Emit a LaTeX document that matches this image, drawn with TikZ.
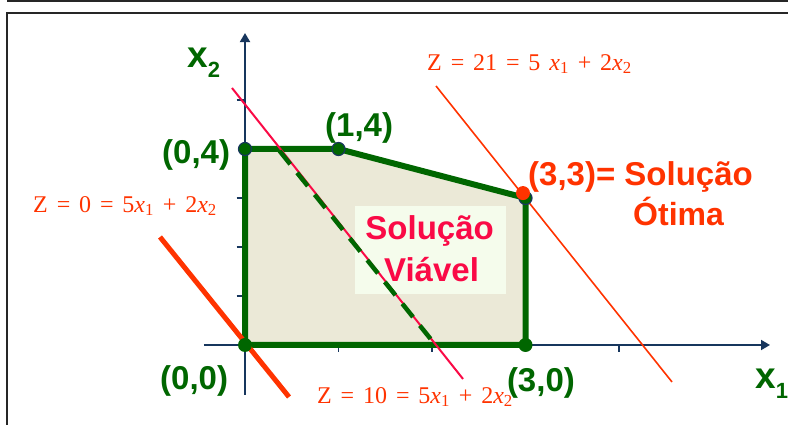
\documentclass[tikz,border=0pt]{standalone}
\usepackage{fontspec}
\newfontfamily\arialfont{Liberation Sans}
\newfontfamily\timesfont{Liberation Serif}
\usetikzlibrary{arrows.meta}

\definecolor{verde}{RGB}{0,102,0}
\definecolor{bege}{RGB}{235,233,215}
\definecolor{marinho}{RGB}{23,54,93}
\definecolor{laranja}{RGB}{255,51,0}
\definecolor{carmim}{RGB}{250,10,70}
\definecolor{verdeclaro}{RGB}{245,252,236}

\newcommand{\xsub}[1]{\textit{x}\textsubscript{#1}}
\newcommand{\esp}{\hspace{0.37em}}

\tikzset{
    rotulo/.style={font=\arialfont\bfseries\fontsize{33}{35}\selectfont, text=verde, inner sep=0pt},
    formula/.style={font=\timesfont\fontsize{24}{26}\selectfont, text=laranja, inner sep=0pt},
    eixo/.style={draw=marinho, line width=1.8pt, -{Triangle[length=9pt,width=10pt]}},
    vertice/.style={circle, fill=verde, draw=marinho, line width=1.2pt, minimum size=13pt, inner sep=0pt},
    pontoverde/.style={circle, fill=verde, minimum size=14pt, inner sep=0pt},
}

\begin{document}
\begin{tikzpicture}[x=1pt, y=1pt]
    \useasboundingbox (0,0) rectangle (788,425);

    % Frame
    \draw[line width=2pt, black!85] (8,426) -- (8,423.5) -- (790,423.5);
    \draw[line width=2pt, black!85] (790,412) -- (7,412) -- (7,-2);

    \begin{scope}[shift={(245pt,80pt)}, x=93.5pt, y=49pt]
        \coordinate (p00) at (0,0);
        \coordinate (p04) at (0,4);
        \coordinate (p14) at (1,4);
        \coordinate (p33) at (3,3);
        \coordinate (p30) at (3,0);

        % Axes
        \coordinate (xini) at (-0.44,0);
        \coordinate (xfim) at (5.615,0);
        \coordinate (yini) at (0,-1.02);
        \coordinate (yfim) at (0,6.367);
        \draw[eixo] (xini) -- (xfim);
        \draw[eixo] (yini) -- (yfim);
        \foreach \k in {1,2,3,5} \draw[marinho, line width=1.5pt] (-0.09,\k) -- (0,\k);
        \foreach \k in {1,2,4} \draw[marinho, line width=1.5pt] (\k,0) -- (\k,-0.15);

        % Feasible region
        \filldraw[fill=bege, draw=verde, line width=6pt] (p00) -- (p04) -- (p14) -- (p33) -- (p30) -- cycle;
        \node (caixa) [fill=verdeclaro, minimum width=151pt, minimum height=88pt] at (1.984,1.939) {};
        \node (solucao) [rotulo, text=carmim, anchor=base] at (1.975,2.143) {Solução};
        \node (viavel) [rotulo, text=carmim, anchor=base] at (1.995,1.306) {Viável};

        % Objective lines
        \coordinate (z10a) at (-0.139,5.245);
        \coordinate (z10b) at (2.332,-0.694);
        \coordinate (tracoa) at (0.37,3.96);
        \coordinate (tracob) at (2.037,0);
        \coordinate (z21a) at (2.043,5.286);
        \coordinate (z21b) at (4.567,-0.755);
        \coordinate (z0a) at (-0.909,2.204);
        \coordinate (z0b) at (0.471,-1.061);
        \draw[carmim, line width=2pt] (z10a) -- (z10b);
        \draw[verde, line width=4.5pt, dash pattern=on 17pt off 11pt] (tracoa) -- (tracob);
        \draw[laranja, line width=1.6pt] (z21a) -- (z21b);
        \draw[laranja, line width=5pt] (z0a) -- (z0b);

        % Vertices
        \node (d04) [vertice] at (p04) {};
        \node (d14) [vertice] at (p14) {};
        \node (d00) [pontoverde] at (p00) {};
        \node (d30) [pontoverde] at (p30) {};
        \node (d33) [vertice] at (p33) {};
        \node (otimo) [pontoverde, fill=laranja] at (2.973,3.10) {};

        % Labels
        \node (rotx2) [rotulo, font=\arialfont\bfseries\fontsize{37}{37}\selectfont, anchor=base west] at (-0.62,5.673)
            {x\raisebox{-10pt}{\fontsize{22}{22}\selectfont 2}};
        \node (rotx1) [rotulo, font=\arialfont\bfseries\fontsize{37}{37}\selectfont, anchor=base west] at (5.455,-0.878)
            {x\raisebox{-10pt}{\fontsize{22}{22}\selectfont 1}};
        \node (r04) [rotulo, anchor=base west] at (-0.888,3.71) {(0,4)};
        \node (r14) [rotulo, anchor=base west] at (0.856,4.245) {(1,4)};
        \node (r00) [rotulo, anchor=base west] at (-0.909,-0.918) {(0,0)};
        \node (r30) [rotulo, anchor=base west] at (2.80,-0.959) {(3,0)};
        \node (r33) [rotulo, text=laranja, anchor=base west] at (3.027,3.265) {(3,3)= Solução};
        \node (rotima) [rotulo, font=\arialfont\bfseries\fontsize{32}{34}\selectfont, text=laranja, anchor=base west] at (4.15,2.43) {Ótima};

        \node (f0) [formula, anchor=base west] at (-2.267,2.714) {Z\esp=\esp0\esp=\esp5\xsub{1}\esp+\esp2\xsub{2}};
        \node (f21) [formula, anchor=base west] at (1.947,5.612) {Z\esp=\esp21\esp=\esp5\esp\xsub{1}\esp+\esp2\xsub{2}};
        \node (f10) [formula, anchor=base west] at (0.770,-1.184) {Z\esp=\esp10\esp=\esp5\xsub{1}\esp+\esp2\xsub{2}};
    \end{scope}
\end{tikzpicture}
\end{document}
